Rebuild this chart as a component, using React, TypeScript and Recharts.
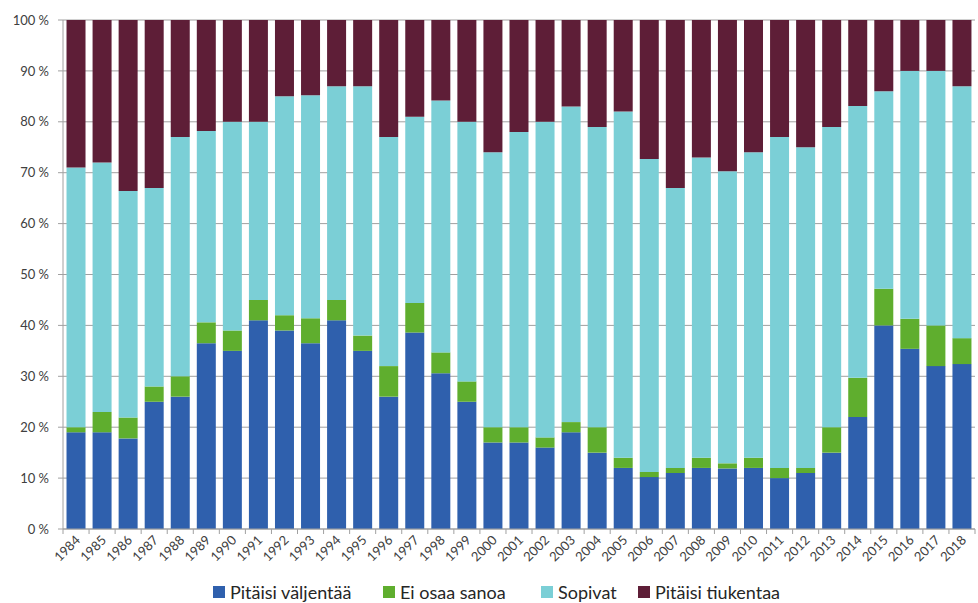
import React from 'react';
import { BarChart, Bar, XAxis, YAxis, CartesianGrid, Legend } from 'recharts';

const years = ['1984','1985','1986','1987','1988','1989','1990','1991','1992','1993','1994','1995','1996','1997','1998','1999','2000','2001','2002','2003','2004','2005','2006','2007','2008','2009','2010','2011','2012','2013','2014','2015','2016','2017','2018'];
const valjentaa = [19,19,17.8,25,26,36.5,35,41,39,36.5,41,35,26,38.6,30.6,25,17,17,16,19,15,12,10.2,11,12,11.9,12,10,11,15,22,40,35.4,32,32.4];
const eiOsaa = [1,4,4.1,3,4,4.1,4,4,3,4.9,4,3,6,5.8,4.1,4,3,3,2,2,5,2,1,1,2,1,2,2,1,5,7.7,7.2,5.9,8,5.1];
const sopivat = [51,49,44.5,39,47,37.6,41,35,43,43.8,42,49,45,36.6,49.5,51,54,58,62,62,59,68,61.5,55,59,57.4,60,65,63,59,53.4,38.8,48.7,50,49.5];
const tiukentaa = [29,28,33.6,33,23,21.8,20,20,15,14.8,13,13,23,19,15.8,20,26,22,20,17,21,18,27.3,33,27,29.7,26,23,25,21,16.9,14,10,10,13];
const yTicks = [0,10,20,30,40,50,60,70,80,90,100];
const seriesOrder = ['v', 'e', 's', 't'];

const data = years.map((y, i) => ({
  year: y,
  v: valjentaa[i],
  e: eiOsaa[i],
  s: sopivat[i],
  t: tiukentaa[i],
}));

const FONT = 'Lato, "Open Sans", sans-serif';
const BAND = 912 / years.length;
const AXIS = '#a0a0a0';

const XTick = (props: any) => {
  const { x, y, payload, index } = props;
  return (
    <g>
      <line x1={x - BAND / 2} x2={x - BAND / 2} y1={y} y2={y + 5} stroke={AXIS} />
      {index === years.length - 1 && (
        <line x1={x + BAND / 2} x2={x + BAND / 2} y1={y} y2={y + 5} stroke={AXIS} />
      )}
      <text
        x={x + 5}
        y={y + 12}
        textAnchor="end"
        transform={`rotate(-45 ${x + 5} ${y + 12})`}
        fontSize={13}
        fontFamily={FONT}
        fill="#404040"
      >
        {payload.value}
      </text>
    </g>
  );
};

const itemWidths = [170, 158, 97, 160];

const LegendContent = (props: any) => {
  const payload = [...(props.payload || [])].sort(
    (a: any, b: any) => seriesOrder.indexOf(a.dataKey) - seriesOrder.indexOf(b.dataKey)
  );
  return (
    <div style={{ display: 'flex', paddingLeft: 213, paddingTop: 4, fontFamily: FONT, fontSize: 18, color: '#262626', whiteSpace: 'nowrap', lineHeight: '18px' }}>
      {payload.map((p: any, i: number) => (
        <div key={i} style={{ display: 'flex', alignItems: 'center', width: itemWidths[i] }}>
          <span style={{ display: 'inline-block', width: 12, height: 12, background: p.color, marginRight: 5 }} />
          <span>{p.value}</span>
        </div>
      ))}
    </div>
  );
};

export default function App() {
  return (
    <div style={{ position: 'absolute', left: 0, top: 0, background: '#fff' }}>
      <BarChart
        width={978}
        height={603}
        data={data}
        margin={{ top: 20, right: 3, left: 0, bottom: 0 }}
        barCategoryGap="13.5%"
      >
        <CartesianGrid vertical={false} stroke={AXIS} strokeWidth={1} />
        <XAxis
          dataKey="year"
          interval={0}
          height={50}
          tickLine={false}
          tickSize={0}
          tickMargin={0}
          axisLine={{ stroke: AXIS }}
          tick={<XTick />}
        />
        <YAxis
          width={63}
          domain={[0, 100]}
          ticks={yTicks}
          tickFormatter={(v: number) => `${v} %`}
          axisLine={{ stroke: AXIS }}
          tickLine={{ stroke: AXIS }}
          tickSize={5}
          tickMargin={9}
          tick={{ fontSize: 13, fontFamily: FONT, fill: '#404040' }}
        />
        <Legend verticalAlign="bottom" height={24} content={<LegendContent />} />
        <Bar dataKey="v" name="Pitäisi väljentää" stackId="a" fill="#2F60AD" isAnimationActive={false} />
        <Bar dataKey="e" name="Ei osaa sanoa" stackId="a" fill="#5FAE2E" isAnimationActive={false} />
        <Bar dataKey="s" name="Sopivat" stackId="a" fill="#7BCFD6" isAnimationActive={false} />
        <Bar dataKey="t" name="Pitäisi tiukentaa" stackId="a" fill="#5E1E37" isAnimationActive={false} />
      </BarChart>
    </div>
  );
}
